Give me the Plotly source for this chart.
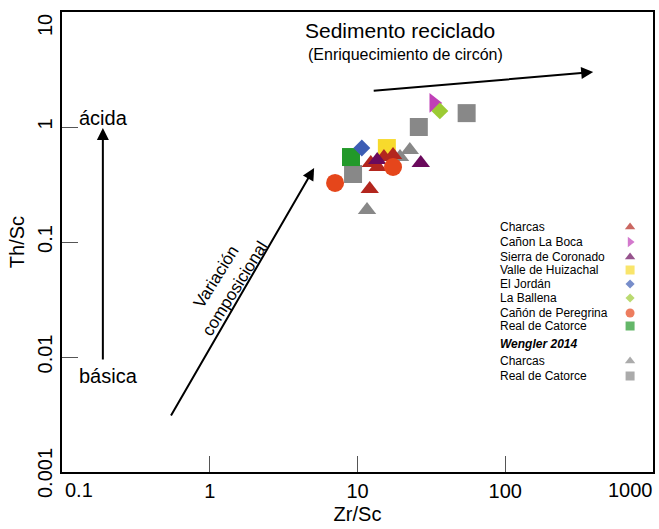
import plotly.graph_objects as go

# ---------------- data (Zr/Sc, Th/Sc) ----------------
charcas_x = [12.1, 12.3, 15.1, 17.4, 13.7]
charcas_y = [0.289, 0.486, 0.548, 0.571, 0.449]
laboca_x = [32.8]
laboca_y = [1.62]
coronado_x = [13.6, 26.8]
coronado_y = [0.516, 0.486]
huizachal_x = [15.8]
huizachal_y = [0.656]
jordan_x = [10.7]
jordan_y = [0.656]
ballena_x = [36.1]
ballena_y = [1.38]
peregrina_x = [7.05, 17.4]
peregrina_y = [0.326, 0.449]
catorce_x = [9.04]
catorce_y = [0.548]
w_charcas_x = [11.6, 22.6, 19.4]
w_charcas_y = [0.19, 0.63, 0.548]
w_catorce_x = [9.33, 26.0, 54.8]
w_catorce_y = [0.39, 1.0, 1.32]

x_ticks = [0.1, 1, 10, 100, 1000]
x_ticklabels = ["", "1", "10", "100", ""]
y_ticks = [0.001, 0.01, 0.1, 1, 10]
y_ticklabels = ["", "0.01", "0.1", "1", ""]

legend_names = ["Charcas", "Cañon La Boca", "Sierra de Coronado", "Valle de Huizachal",
                "El Jordán", "La Ballena", "Cañón de Peregrina", "Real de Catorce",
                "Charcas", "Real de Catorce"]

# ---------------- styles ----------------
RED = "#B3261E"
MAGENTA = "#C040B8"
PURPLE = "#6A0A5C"
YELLOW = "#F7DA2C"
BLUE = "#3D5DB4"
LIME = "#9CCB34"
ORANGE = "#E5461B"
GREEN = "#22992A"
GRAY = "#888888"
FONT = "Liberation Sans, Arial, sans-serif"

W, H = 659, 529
X0, X1, Y0, Y1 = 62, 655, 12, 472


def px(xp):
    return (xp - X0) / (X1 - X0)


def py(yp):
    return (Y1 - yp) / (Y1 - Y0)


def text_ann(xp, yp, text, size, xanchor="center", yanchor="middle", angle=0):
    return dict(xref="paper", yref="paper", x=px(xp), y=py(yp), text=text,
                showarrow=False, xanchor=xanchor, yanchor=yanchor, textangle=angle,
                font=dict(family=FONT, size=size, color="black"))


fig = go.Figure()

series = [
    (w_catorce_x, w_catorce_y, "square", GRAY, 18),
    (w_charcas_x, w_charcas_y, "triangle-up", GRAY, 16),
    (catorce_x, catorce_y, "square", GREEN, 18),
    (huizachal_x, huizachal_y, "square", YELLOW, 18),
    (jordan_x, jordan_y, "diamond", BLUE, 13),
    (charcas_x, charcas_y, "triangle-up", RED, 16),
    (coronado_x, coronado_y, "triangle-up", PURPLE, 16),
    (peregrina_x, peregrina_y, "circle", ORANGE, 18),
    (laboca_x, laboca_y, "triangle-right", MAGENTA, 17),
    (ballena_x, ballena_y, "diamond", LIME, 13),
]
for xs, ys, sym, col, sz in series:
    fig.add_trace(go.Scatter(x=xs, y=ys, mode="markers", showlegend=False,
                             marker=dict(symbol=sym, color=col, size=sz, line=dict(width=0))))

# ---------------- custom legend ----------------
leg_rows = [227, 242, 257, 270, 284, 298, 313, 326, 361, 376]
leg_syms = ["triangle-up", "triangle-right", "triangle-up", "square", "diamond",
            "diamond", "circle", "square", "triangle-up", "square"]
leg_cols = [RED, MAGENTA, PURPLE, YELLOW, BLUE, LIME, ORANGE, GREEN, GRAY, GRAY]
leg_sizes = [9, 9, 9, 9, 7, 7, 9, 9, 9, 9]
fig.add_trace(go.Scatter(
    x=[px(632)] * len(leg_rows), y=[py(r) for r in leg_rows], mode="markers",
    xaxis="x2", yaxis="y2", showlegend=False,
    marker=dict(symbol=leg_syms, color=leg_cols, size=leg_sizes, line=dict(width=0))))

annotations = []
for name, r in zip(legend_names, leg_rows):
    annotations.append(text_ann(499, r, name, 12, xanchor="left"))
annotations.append(text_ann(499, 344, "<b><i>Wengler 2014</i></b>", 12, xanchor="left"))

# ---------------- texts & arrows ----------------
annotations += [
    text_ann(401, 31, "Sedimento reciclado", 21),
    text_ann(407, 54, "(Enriquecimiento de circón)", 16),
    text_ann(226, 282, "Variación<br>composicional", 17, angle=-58),
    text_ann(77, 118, "ácida", 20, xanchor="left"),
    text_ann(77, 376, "básica", 20, xanchor="left"),
]
arrows = [((595, 72), (374, 91)), ((315, 168), (171, 417)), ((103, 128), (103, 361))]
for (hx, hy), (tx, ty) in arrows:
    annotations.append(dict(xref="paper", yref="paper", x=px(hx), y=py(hy), text="",
                            showarrow=True, arrowhead=2, arrowsize=1.2, arrowwidth=2,
                            arrowcolor="black", ax=tx - hx, ay=ty - hy, standoff=0,
                            startstandoff=0))

# end tick labels placed inside the corners like the original
annotations += [
    text_ann(63, 477, "0.1", 20, xanchor="left", yanchor="top"),
    text_ann(657, 477, "1000", 20, xanchor="right", yanchor="top"),
    text_ann(58, 12, "10", 20, xanchor="right", yanchor="top", angle=-90),
    text_ann(58, 500, "0.001", 20, xanchor="right", yanchor="bottom", angle=-90),
]

axis_common = dict(showgrid=False, zeroline=False, showline=True, linecolor="black",
                   linewidth=1.5, mirror=True, ticks="inside", ticklen=16, tickwidth=1,
                   tickcolor="#555555", tickfont=dict(family=FONT, size=20, color="black"))

fig.update_layout(
    width=W, height=H,
    margin=dict(l=X0, r=W - X1, t=Y0, b=H - Y1),
    paper_bgcolor="white", plot_bgcolor="white",
    xaxis=dict(type="log", range=[-1, 3], tickvals=x_ticks, ticktext=x_ticklabels,
               title=dict(text="Zr/Sc", font=dict(family=FONT, size=20, color="black"),
                          standoff=6), **axis_common),
    yaxis=dict(type="log", range=[-3, 1], tickvals=y_ticks, ticktext=y_ticklabels,
               tickangle=-90,
               title=dict(text="Th/Sc", font=dict(family=FONT, size=20, color="black"),
                          standoff=4), **axis_common),
    xaxis2=dict(range=[0, 1], overlaying="x", visible=False, fixedrange=True),
    yaxis2=dict(range=[0, 1], overlaying="y", visible=False, fixedrange=True),
    annotations=annotations,
)

fig.write_html("out.html")
